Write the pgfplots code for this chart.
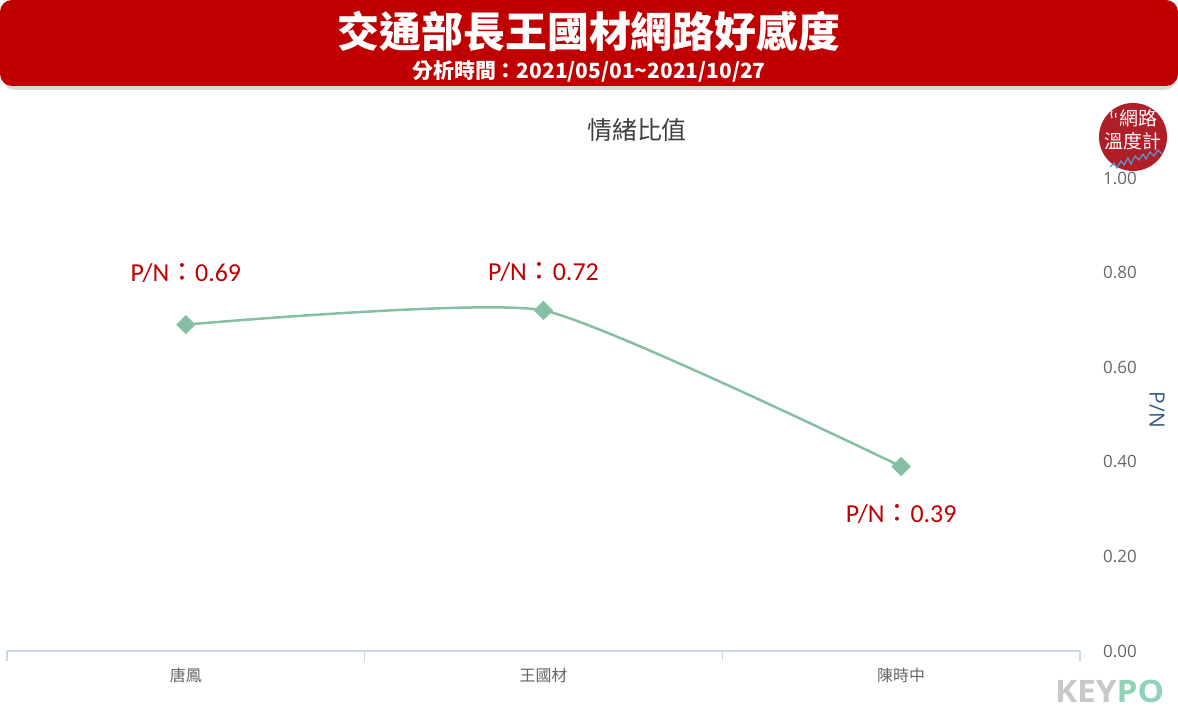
\documentclass[border=0pt]{standalone}
\usepackage{pgfplots}
\pgfplotsset{compat=1.18}
\usepackage{fontspec}
\setmainfont{Open Sans}
\newfontfamily\cjk{Noto Sans CJK TC}
\newfontfamily\cali{Carlito}
\definecolor{hdrred}{RGB}{192,0,0}
\definecolor{labred}{RGB}{192,0,0}
\definecolor{linec}{RGB}{134,191,164}
\definecolor{axisc}{RGB}{204,214,235}
\definecolor{tickc}{RGB}{102,102,102}
\definecolor{ylabc}{RGB}{51,92,125}
\definecolor{logored}{RGB}{176,30,40}
\definecolor{keyc}{RGB}{200,200,200}
\definecolor{poc}{RGB}{143,211,184}
\begin{document}
\begin{tikzpicture}[x=1bp,y=1bp]
\begin{axis}[name=ax, scale only axis,
  width=1073bp, height=473bp,
  xmin=-0.5, xmax=2.5, ymin=0, ymax=1,
  clip=false,
  axis x line*=bottom, axis y line*=right,
  y axis line style={draw=none},
  x axis line style={draw=axisc, line width=1.2bp},
  xtick={-0.5,0.5,1.5,2.5}, xticklabels={},
  major tick length=10bp, tick align=outside,
  major x tick style={draw=axisc, line width=1.2bp},
  extra x ticks={0,1,2}, extra x tick labels={唐鳳,王國材,陳時中},
  extra x tick style={major tick length=0bp, major x tick style={draw=none}},
  xticklabel style={font=\cjk\fontsize{16}{16}\selectfont, text=tickc, anchor=center, yshift=-24bp},
  ytick={0,0.2,0.4,0.6,0.8,1},
  major y tick style={draw=none},
  yticklabel style={/pgf/number format/.cd, fixed, fixed zerofill, precision=2, assume math mode=true, /tikz/.cd,
    anchor=west, inner sep=0pt, xshift=13bp, text=tickc, font=\fontsize{17}{17}\selectfont},
]
\addplot[smooth, tension=0.3, color=linec, line width=2.5bp, mark=square*, mark size=5.6bp,
  mark options={fill=linec, draw=linec, rotate=45}] coordinates {(0,0.69) (1,0.72) (2,0.39)};
\node[text=labred, font=\cali\fontsize{26}{26}\selectfont] at (axis cs:0,0.69) [yshift=52bp] {P/N{\cjk ：}0.69};
\node[text=labred, font=\cali\fontsize{26}{26}\selectfont] at (axis cs:1,0.72) [yshift=38bp] {P/N{\cjk ：}0.72};
\node[text=labred, font=\cali\fontsize{26}{26}\selectfont] at (axis cs:2,0.39) [yshift=-48bp] {P/N{\cjk ：}0.39};
\coordinate (BL) at (rel axis cs:0,0);
\end{axis}
\begin{scope}[shift={(BL)}, xshift=-7bp, yshift=-69bp]
% header
\fill[black!15, rounded corners=12bp] (3,630) rectangle (1176,718);
\fill[hdrred, rounded corners=12bp] (0,634) rectangle (1178,720);
\node[text=white, font=\cjk\bfseries\fontsize{42}{42}\selectfont] at (589,689) {交通部長王國材網路好感度};
\node[text=white, font=\cjk\bfseries\fontsize{21}{21}\selectfont] at (589,649) {分析時間：2021/05/01\char"007E 2021/10/27};
% chart title
\node[text=black!75, font=\cjk\fontsize{25}{25}\selectfont] at (637,590) {情緒比值};
% y label
\node[rotate=-90, text=ylabc, font=\fontsize{21}{21}\selectfont] at (1157,310) {P/N};
% logo
\fill[logored] (1133,583) circle (34);
\draw[white, line width=1.2bp] (1112,609) arc (150:210:7);
\draw[white, line width=1.2bp] (1116,607) arc (150:210:4.5);
\node[text=white, font=\cjk\fontsize{19}{19}\selectfont] at (1138,602) {網路};
\node[text=white, font=\cjk\fontsize{19}{19}\selectfont] at (1133,579) {溫度計};
\draw[cyan!60!blue!70, line width=1.2bp] (1110,553) -- (1114,557) -- (1117,552) -- (1121,559) -- (1124,555) -- (1128,562) -- (1131,556) -- (1135,564) -- (1139,560) -- (1143,566) -- (1146,561) -- (1150,568) -- (1154,564) -- (1158,570) -- (1162,566);
% KEYPO
\node[font=\bfseries\fontsize{31}{31}\selectfont, anchor=east, xscale=1.08] at (1168,29) {\textcolor{keyc}{KEY}\textcolor{poc}{PO}};
\pgfresetboundingbox
\useasboundingbox (0,0) rectangle (1178,720);
\end{scope}
\end{tikzpicture}
\end{document}
